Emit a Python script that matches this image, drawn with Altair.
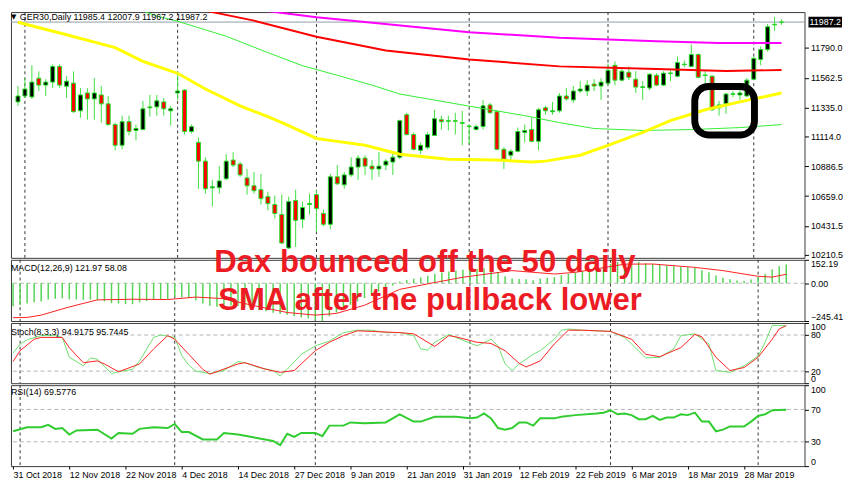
import altair as alt
import pandas as pd

FONT = "Liberation Sans"

# ---------------- price bars: bar index 0 = 31 Oct 2018 ... 110 = last bar ----------------
opens = [11378, 11423, 11416, 11559, 11506, 11529, 11649, 11498, 11521, 11310,
         11446, 11401, 11431, 11363, 11205, 11047, 11227, 11160, 11167, 11333,
         11340, 11378, 11310, 11446, 11468, 11152, 11069, 10926, 10722, 10723,
         10791, 10934, 10904, 10798, 10738, 10708, 10655, 10595, 10519, 10263,
         10625, 10482, 10595, 10670, 10527, 10444, 10806, 10745, 10821, 10881,
         10949, 10888, 10866, 10896, 10919, 10956, 11280, 11129, 11009, 11031,
         11122, 11242, 11230, 11235, 11215, 11190, 11167, 11190, 11355, 11303,
         11016, 10971, 11001, 11145, 11167, 11077, 11333, 11303, 11310, 11423,
         11393, 11461, 11461, 11514, 11499, 11521, 11657, 11544, 11604, 11551,
         11488, 11484, 11581, 11506, 11594, 11574, 11662, 11649, 11740, 11579,
         11574, 11333, 11363, 11436, 11431, 11423, 11551, 11702, 11777, 11966,
         11985.4]
highs = [11499, 11559, 11657, 11611, 11551, 11664, 11664, 11574, 11611, 11483,
         11483, 11559, 11498, 11423, 11220, 11273, 11273, 11205, 11386, 11431,
         11431, 11408, 11348, 11597, 11476, 11205, 11107, 10956, 10783, 10888,
         10979, 10994, 10919, 10866, 10843, 10828, 10693, 10663, 10670, 10655,
         10708, 10617, 10678, 10708, 10557, 10828, 10896, 10843, 10956, 10971,
         10971, 10934, 10994, 10941, 10994, 11242, 11295, 11145, 11069, 11145,
         11318, 11273, 11273, 11295, 11310, 11205, 11205, 11393, 11371, 11310,
         11032, 11016, 11182, 11205, 11258, 11333, 11348, 11378, 11446, 11484,
         11499, 11536, 11544, 11551, 11559, 11672, 11687, 11634, 11649, 11612,
         11536, 11597, 11597, 11612, 11619, 11725, 11694, 11815, 11747, 11619,
         11581, 11386, 11446, 11461, 11484, 11559, 11725, 11800, 11973, 12026,
         12007.9]
lows = [11348, 11408, 11401, 11461, 11423, 11483, 11483, 11408, 11295, 11257,
        11242, 11242, 11220, 11197, 11009, 11016, 11122, 11084, 11167, 11265,
        11273, 11273, 11197, 11393, 11129, 11137, 10715, 10678, 10580, 10678,
        10783, 10881, 10806, 10670, 10678, 10595, 10550, 10489, 10293, 10256,
        10271, 10414, 10519, 10384, 10429, 10406, 10745, 10715, 10806, 10783,
        10821, 10783, 10806, 10858, 10821, 10941, 11122, 11009, 10979, 11016,
        11122, 11167, 11160, 11129, 11047, 11054, 11160, 11167, 11288, 11009,
        10866, 10926, 10994, 11069, 11069, 11009, 11280, 11280, 11295, 11386,
        11371, 11446, 11423, 11461, 11393, 11506, 11506, 11536, 11544, 11446,
        11393, 11468, 11499, 11499, 11536, 11566, 11642, 11642, 11559, 11521,
        11310, 11273, 11288, 11416, 11393, 11416, 11544, 11657, 11762, 11920,
        11967.2]
closes = [11423, 11476, 11529, 11506, 11529, 11649, 11506, 11536, 11303, 11431,
          11401, 11446, 11363, 11205, 11047, 11227, 11152, 11175, 11325, 11340,
          11386, 11325, 11325, 11461, 11152, 11190, 10926, 10715, 10730, 10775,
          10926, 10896, 10821, 10738, 10700, 10640, 10602, 10527, 10301, 10617,
          10474, 10572, 10602, 10565, 10444, 10806, 10753, 10821, 10881, 10949,
          10888, 10866, 10888, 10926, 10956, 11235, 11129, 11016, 11047, 11129,
          11250, 11227, 11235, 11230, 11220, 11194, 11190, 11348, 11295, 11016,
          10941, 11001, 11152, 11160, 11077, 11318, 11310, 11310, 11423, 11401,
          11461, 11476, 11506, 11499, 11529, 11619, 11544, 11612, 11566, 11491,
          11493, 11589, 11506, 11597, 11599, 11679, 11666, 11740, 11566, 11584,
          11318, 11355, 11438, 11440, 11446, 11544, 11710, 11777, 11951, 11970,
          11987.2]

# ---------------- moving averages read at selected bars ----------------
sma_yellow_i = [0, 7, 14, 18, 23, 27, 32, 36, 39, 43, 46, 50, 55, 62, 69, 74, 76, 81, 85, 90, 94, 99, 104, 110]
sma_yellow_v = [11986, 11890, 11792, 11687, 11596, 11476, 11348, 11265, 11197, 11099, 11077, 11047, 10979,
                10941, 10934, 10919, 10926, 10971, 11047, 11145, 11235, 11318, 11378, 11446]
sma_green_i = [12, 16, 20, 23, 30, 36, 41, 46, 51, 55, 64, 73, 78, 83, 90, 97, 104, 110]
sma_green_v = [12200, 12109, 12033, 11993, 11879, 11754, 11654, 11581, 11506, 11438, 11355, 11273, 11220,
               11175, 11160, 11167, 11182, 11205]
sma_red_i = [20, 23, 28, 34, 43, 53, 65, 78, 92, 102, 110]
sma_red_v = [12200, 12124, 12063, 11998, 11875, 11770, 11702, 11649, 11629, 11614, 11621]
sma_magenta_i = [25, 28, 43, 65, 78, 92, 101, 110]
sma_magenta_v = [12200, 12124, 12024, 11910, 11868, 11840, 11828, 11828]

# ---------------- MACD(12,26,9) ----------------
macd_main = [-150, -142, -132, -124, -118,
             -105, -100, -98, -104, -106, -108, -106, -110,
             -118, -130, -132, -136, -136,
             -124, -116, -108, -104, -104,
             -88, -92, -96,
             -112, -132, -146, -152, -146,
             -144, -148, -156, -164, -172, -182, -192,
             -200, -205, -215, -222, -228, -240, -245.41,
             -215, -190, -165, -140, -118, -96, -75, -55, -35, -15,
             10, 22, 30, 38, 48, 62,
             70, 76, 82, 88, 90, 92, 98, 96,
             70, 45, 30, 28, 26, 20, 30, 35, 40,
             52, 60, 70, 80, 90, 98, 106,
             125, 138, 146, 152.19, 140, 130, 126, 120, 116, 110, 106, 104, 100,
             84, 72, 50, 36, 26, 18, 14, 24, 40,
             62, 90, 110, 121.97]
macd_sig_i = [0, 2, 4, 8, 12, 17, 22, 26, 30, 34, 39, 43, 46, 50, 55, 60, 64, 71, 77, 80, 87, 91, 97, 101, 106, 108, 110]
macd_sig_v = [-224, -222, -207, -154, -108, -104, -106, -90, -100, -143, -190, -207, -196, -143, -40, 5, 39,
              82, 60, 71, 124, 125, 103, 82, 45, 40, 58.08]

# ---------------- Stochastic(8,3,3) ----------------
stoch_k_i = [0, 1, 2, 4, 6, 7, 8, 10, 11, 12, 14, 15, 17, 18, 20, 21, 23, 24, 25, 26, 27, 28, 30, 32, 33, 35,
             37, 38, 39, 41, 43, 45, 47, 49, 51, 53, 55, 57, 58, 59, 60, 62, 63, 66, 68, 69, 70, 71, 72, 74,
             75, 77, 78, 79, 81, 85, 87, 88, 90, 92, 94, 95, 97, 99, 100, 102, 104, 106, 107, 108, 109, 110]
stoch_k_v = [50, 65, 72, 79, 79, 76, 43, 29, 42, 40, 16, 19, 23, 37, 76, 80, 76, 46, 30, 20, 18, 16, 21, 36,
             34, 26, 21, 12, 23, 48, 62, 70, 84, 88, 88, 84, 84, 79, 57, 55, 68, 81, 76, 62, 73, 62, 32, 21,
             32, 48, 54, 73, 88, 90, 88, 86, 76, 65, 42, 43, 57, 79, 82, 65, 21, 18, 29, 45, 68, 96, 96, 94.92]
stoch_d_i = [0, 1, 3, 4, 7, 8, 10, 12, 13, 15, 18, 20, 22, 23, 25, 27, 28, 32, 33, 36, 38, 40, 41, 43, 45,
             47, 49, 51, 55, 57, 60, 62, 63, 66, 68, 70, 72, 73, 75, 77, 79, 81, 85, 88, 90, 92, 95, 97, 98,
             100, 102, 104, 106, 108, 109, 110]
stoch_d_v = [36, 54, 73, 76, 76, 59, 34, 37, 32, 19, 32, 57, 79, 73, 48, 23, 15, 32, 34, 23, 18, 21, 32, 54,
             68, 79, 87, 86, 84, 82, 61, 79, 77, 68, 66, 54, 33, 27, 37, 65, 88, 88, 86, 73, 48, 44, 59, 81,
             77, 43, 21, 26, 43, 73, 90, 95.74]

# ---------------- RSI(14) ----------------
rsi_i = [0, 2, 4, 5, 6, 7, 8, 9, 12, 14, 15, 17, 18, 20, 22, 23, 24, 25, 27, 29, 30, 32, 37, 38, 39, 40, 41,
         43, 44, 45, 47, 48, 50, 53, 55, 57, 58, 60, 63, 65, 66, 67, 68, 69, 70, 71, 72, 73, 74, 75, 77, 78,
         80, 83, 84, 85, 86, 87, 88, 89, 90, 91, 92, 93, 94, 95, 96, 97, 98, 99, 100, 101, 102, 104, 105,
         106, 107, 108, 110]
rsi_v = [43, 48, 48, 51, 46, 47, 39, 44, 45, 34, 41, 40, 46, 48, 47, 52, 42, 42, 33, 33, 41, 39, 31, 26, 40,
         36, 41, 41, 37, 50, 50, 54, 53, 54, 64, 55, 55, 61, 61, 59, 60, 65, 59, 47, 45, 47, 54, 54, 50, 59,
         59, 61, 63, 65, 66, 69, 64, 65, 63, 58, 58, 62, 57, 60, 60, 64, 63, 66, 55, 55, 43, 45, 49, 49, 55,
         62, 64, 69, 69.58]

# ---------------- axes / annotations ----------------
month_sep_bars = [1, 23, 43, 65, 85, 106]
date_tick_bars = [0, 8, 16, 24, 32, 40, 48, 56, 64, 72, 80, 88, 96, 104]
date_labels = ["31 Oct 2018", "12 Nov 2018", "22 Nov 2018", "4 Dec 2018", "14 Dec 2018", "27 Dec 2018",
               "9 Jan 2019", "21 Jan 2019", "31 Jan 2019", "12 Feb 2019", "22 Feb 2019", "6 Mar 2019",
               "18 Mar 2019", "28 Mar 2019"]
price_ticks = [11790.0, 11562.5, 11335.0, 11114.0, 10886.5, 10659.0, 10431.5, 10210.5]
macd_ticks = [-245.41, 0.0, 152.19]
stoch_ticks = [0, 20, 80, 100]
rsi_ticks = [0, 30, 70, 100]
box_bars = [97.5, 106.1]
box_prices = [11126, 11495]
note_lines = ["Dax bounced off the 50 daily", "SMA after the pullback lower"]

# ---------------- chart ----------------
W = 804
xs = alt.Scale(domain=[-0.3, 112.6], nice=False, zero=False)
X0 = alt.X("i:Q", scale=xs, axis=None, title=None)


def right_axis(values, fmt, flush):
    return alt.Axis(orient="right", values=values, format=fmt, tickSize=4, tickColor="#000000",
                    labelColor="#000000", labelFont=FONT, labelFontSize=9, labelPadding=2,
                    domain=False, grid=False, title=None, labelFlush=flush, labelOverlap=False)


ys_main = alt.Scale(domain=[10188, 12063.4], nice=False, zero=False)
ax_main = right_axis(price_ticks, ".1f", False)


def Ym(f):
    return alt.Y(f + ":Q", scale=ys_main, axis=ax_main, title=None)


cdf = pd.DataFrame({"i": list(range(len(opens))), "o": opens, "h": highs, "l": lows, "c": closes})
cdf["fill"] = ["#000000" if c >= o else "#ff0000" for o, c in zip(opens, closes)]
sep_df = pd.DataFrame({"i": month_sep_bars})


def seps():
    return alt.Chart(sep_df).mark_rule(color="#333333", strokeDash=[3, 3], strokeWidth=1).encode(x=X0)


def ma(iv, vv, color, width, yfun):
    d = pd.DataFrame({"i": iv, "v": vv})
    return alt.Chart(d).mark_line(color=color, strokeWidth=width, clip=True).encode(x=X0, y=yfun("v"))


last = pd.DataFrame({"p": [closes[-1]], "t": [f"{closes[-1]:.1f}"]})
price_line = alt.Chart(last).mark_rule(color="#8e9aa6", strokeWidth=1).encode(y=Ym("p"))
wicks = alt.Chart(cdf).mark_rule(color="#3ee03e", strokeWidth=1, clip=True).encode(x=X0, y=Ym("l"), y2="h")
bodies = alt.Chart(cdf).mark_bar(size=4, stroke="#22dd22", strokeWidth=1, clip=True, orient="vertical").encode(
    x=X0, y=Ym("o"), y2="c", color=alt.Color("fill:N", scale=None))
box_df = pd.DataFrame({"x0": [box_bars[0]], "x1": [box_bars[1]], "p0": [box_prices[0]], "p1": [box_prices[1]]})
box = alt.Chart(box_df).mark_rect(filled=False, color="#000000", strokeWidth=7, cornerRadius=14).encode(
    x=alt.X("x0:Q", scale=xs, axis=None), x2="x1", y=Ym("p0"), y2="p1")
head_txt = f"GER30,Daily  {opens[-1]:.1f} {highs[-1]:.1f} {lows[-1]:.1f} {closes[-1]:.1f}"
header = alt.Chart(pd.DataFrame({"t": [head_txt]})).mark_text(
    align="left", baseline="middle", font=FONT, fontSize=9, color="#000000").encode(
    text="t:N", x=alt.value(9), y=alt.value(5))
tri = alt.Chart(pd.DataFrame({"t": ["▼"]})).mark_text(
    align="left", baseline="middle", font="DejaVu Sans", fontSize=7, color="#000000").encode(
    text="t:N", x=alt.value(0), y=alt.value(5))
tag_box = alt.Chart(last).mark_point(shape="M-1,-0.32H1V0.32H-1Z", size=1156, filled=True, opacity=1,
                                     color="#000000").encode(x=alt.value(W + 21), y=Ym("p"))
tag_txt = alt.Chart(last).mark_text(color="#ffffff", font=FONT, fontSize=9, align="center",
                                    baseline="middle").encode(text="t:N", x=alt.value(W + 21), y=Ym("p"))

main = alt.layer(
    seps(), price_line,
    wicks, bodies,
    ma(sma_magenta_i, sma_magenta_v, "#ff00ff", 2, Ym),
    ma(sma_red_i, sma_red_v, "#ff0000", 2, Ym),
    ma(sma_green_i, sma_green_v, "#33ee33", 1, Ym),
    ma(sma_yellow_i, sma_yellow_v, "#ffff00", 3, Ym),
    box, tri, header, tag_box, tag_txt,
).properties(width=W, height=249)

# MACD panel
ys_macd = alt.Scale(domain=[-245.41, 152.19], nice=False, zero=False)
ax_macd = right_axis(macd_ticks, ".2f", True)


def Yd(f):
    return alt.Y(f + ":Q", scale=ys_macd, axis=ax_macd, title=None)


mdf = pd.DataFrame({"i": list(range(len(macd_main))), "m": macd_main, "zero": [0.0] * len(macd_main)})
zero_df = pd.DataFrame({"v": [0.0]})
macd_level = alt.Chart(zero_df).mark_rule(color="#b4b4b4", strokeDash=[4, 3]).encode(y=Yd("v"))
hist = alt.Chart(mdf).mark_rule(color="#55d455", strokeWidth=1.5).encode(x=X0, y=Yd("zero"), y2="m")
macd_head = alt.Chart(pd.DataFrame({"t": [f"MACD(12,26,9) {macd_main[-1]:.2f} {macd_sig_v[-1]:.2f}"]})).mark_text(
    align="left", baseline="middle", font=FONT, fontSize=9, color="#000000").encode(
    text="t:N", x=alt.value(0), y=alt.value(8))
note1 = alt.Chart(pd.DataFrame({"t": [note_lines[0]]})).mark_text(
    align="left", baseline="alphabetic", font=FONT, fontSize=31.5, fontWeight="bold", color="#ed1c24").encode(
    text="t:N", x=alt.value(206), y=alt.value(12))
note2 = alt.Chart(pd.DataFrame({"t": [note_lines[1]]})).mark_text(
    align="left", baseline="alphabetic", font=FONT, fontSize=31.5, fontWeight="bold", color="#ed1c24").encode(
    text="t:N", x=alt.value(210), y=alt.value(51))
macd = alt.layer(
    seps(), macd_level, hist,
    ma(macd_sig_i, macd_sig_v, "#ff2020", 1, Yd),
    macd_head, note1, note2,
).properties(width=W, height=62)

# Stochastic panel
ys_st = alt.Scale(domain=[0, 100], nice=False, zero=False)
ax_st = right_axis(stoch_ticks, "d", True)


def Ys(f):
    return alt.Y(f + ":Q", scale=ys_st, axis=ax_st, title=None)


st_lv = alt.Chart(pd.DataFrame({"v": [20, 80]})).mark_rule(color="#b4b4b4", strokeDash=[4, 3]).encode(y=Ys("v"))
st_head = alt.Chart(pd.DataFrame({"t": ["Stoch(8,3,3) 94.9175 95.7445"]})).mark_text(
    align="left", baseline="middle", font=FONT, fontSize=9, color="#000000").encode(
    text="t:N", x=alt.value(0), y=alt.value(9))
stoch = alt.layer(
    seps(), st_lv,
    ma(stoch_k_i, stoch_k_v, "#6ee06e", 1, Ys),
    ma(stoch_d_i, stoch_d_v, "#ff2020", 1, Ys),
    st_head,
).properties(width=W, height=61)

# RSI panel
ys_r = alt.Scale(domain=[0, 100], nice=False, zero=False)
ax_r = right_axis(rsi_ticks, "d", True)


def Yr(f):
    return alt.Y(f + ":Q", scale=ys_r, axis=ax_r, title=None)


labels_js = "[" + ",".join("'" + s + "'" for s in date_labels) + "]"
X_bottom = alt.X("i:Q", scale=xs, title=None, axis=alt.Axis(
    values=date_tick_bars, labelExpr=labels_js + "[round(datum.value/8)]", labelAlign="left",
    labelPadding=2, tickSize=3, tickColor="#000000", domain=False, grid=False, labelFont=FONT,
    labelFontSize=9, labelColor="#000000", labelFlush=False, labelOverlap=False))
r_lv = alt.Chart(pd.DataFrame({"v": [30, 70]})).mark_rule(color="#b4b4b4", strokeDash=[4, 3]).encode(y=Yr("v"))
r_line = alt.Chart(pd.DataFrame({"i": rsi_i, "v": rsi_v})).mark_line(color="#30cc30", strokeWidth=2).encode(
    x=X_bottom, y=Yr("v"))
r_sep = alt.Chart(sep_df).mark_rule(color="#333333", strokeDash=[3, 3], strokeWidth=1).encode(x=X_bottom)
r_head = alt.Chart(pd.DataFrame({"t": [f"RSI(14) 69.5776"]})).mark_text(
    align="left", baseline="middle", font=FONT, fontSize=9, color="#000000").encode(
    text="t:N", x=alt.value(0), y=alt.value(7))
rsi = alt.layer(r_sep, r_lv, r_line, r_head).properties(width=W, height=82)

chart = alt.vconcat(main, macd, stoch, rsi, spacing=2, bounds="flush").properties(
    padding=0, background="#ffffff"
).configure_view(stroke="#3a3a3a", strokeWidth=1)

chart.save("out.html", embed_options={"renderer": "svg", "actions": False})
